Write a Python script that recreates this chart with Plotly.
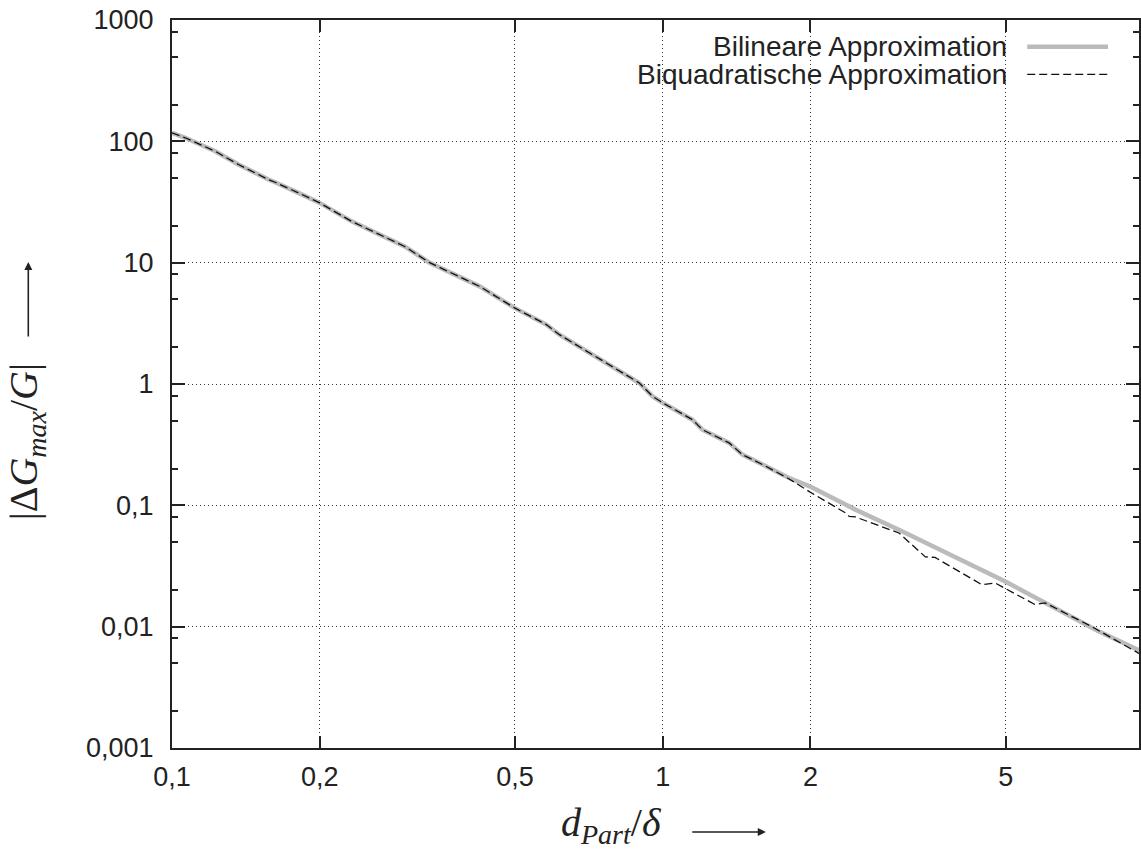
import plotly.graph_objects as go

# ---- data ----
x_bilinear = [0.1, 0.1064, 0.1225, 0.1366, 0.1572, 0.1622, 0.181, 0.2, 0.2323, 0.265,
              0.298, 0.335, 0.4236, 0.499, 0.579, 0.616, 0.666, 0.72, 0.896, 0.954, 1.0,
              1.15, 1.205, 1.366, 1.454, 1.623, 1.81, 1.994, 2.47, 3.03, 3.49, 4.98,
              7.73, 9.5]
y_bilinear = [117.5, 107, 82.8, 64.4, 48.4, 46, 37.6, 31.1, 21.9, 17.1,
              13.6, 10.0, 6.38, 4.24, 3.09, 2.55, 2.11, 1.75, 1.02, 0.79, 0.70,
              0.508, 0.42, 0.327, 0.262, 0.21, 0.168, 0.1435, 0.0922, 0.063, 0.0474, 0.0237,
              0.00915, 0.0062]

x_biquad = [0.1, 0.1064, 0.1225, 0.1366, 0.1572, 0.1622, 0.181, 0.2, 0.2323, 0.265,
            0.298, 0.335, 0.4236, 0.499, 0.579, 0.616, 0.666, 0.72, 0.896, 0.954, 1.0,
            1.15, 1.205, 1.366, 1.454, 1.623, 1.81, 1.994, 2.36, 2.40, 2.47, 3.03, 3.43,
            3.59, 4.47, 4.76, 5.74, 6.02, 7.49, 9.5]
y_biquad = [117.5, 107, 82.8, 64.4, 48.4, 46, 37.6, 31.1, 21.9, 17.1,
            13.6, 10.0, 6.38, 4.24, 3.09, 2.55, 2.11, 1.75, 1.02, 0.79, 0.70,
            0.508, 0.42, 0.327, 0.262, 0.21, 0.165, 0.129, 0.0865, 0.0811, 0.0802, 0.0592, 0.0376,
            0.0372, 0.0222, 0.0229, 0.0152, 0.0157, 0.0100, 0.0058]

series_names = ["Bilineare Approximation", "Biquadratische Approximation"]

x_tickvals = [0.1, 0.2, 0.5, 1, 2, 5]
x_ticktext = ["0,1", "0,2", "0,5", "1", "2", "5"]
y_tickvals = [0.001, 0.01, 0.1, 1, 10, 100, 1000]
y_ticktext = ["0,001", "0,01", "0,1", "1", "10", "100", "1000"]
y_minorvals = [m * 10.0 ** e for e in range(-3, 3) for m in (2, 5, 8)]

x_title = "<i>d</i><sub><i>Part</i></sub>/<i>δ</i>"
y_title = "|Δ<i>G</i><sub><i>max</i></sub>/<i>G</i>|"

# ---- figure ----
W, H = 1141, 852
ML, MR, MT, MB = 172, 0, 20, 104
PW, PH = W - ML - MR, H - MT - MB


def px_x(p):
    return (p - ML) / PW


def px_y(p):
    return 1 - (p - MT) / PH


GRAY = "#bbbbbb"
INK = "#222222"
TICKFONT = dict(family="Liberation Sans, Arial, sans-serif", size=27, color=INK)
MATHFONT = dict(family="Liberation Serif, Times New Roman, serif", size=40, color=INK)

fig = go.Figure()
fig.add_trace(go.Scatter(x=x_bilinear, y=y_bilinear, mode="lines", name=series_names[0],
                         line=dict(color=GRAY, width=4.5), showlegend=False))
fig.add_trace(go.Scatter(x=x_biquad, y=y_biquad, mode="lines", name=series_names[1],
                         line=dict(color="#111111", width=1.3, dash="8px,4px"), showlegend=False))

x_end = (PW / 491.7) - 1  # log10 upper bound so a decade spans ~492 px

fig.update_layout(
    width=W, height=H,
    margin=dict(l=ML, r=MR, t=MT, b=MB, pad=0),
    paper_bgcolor="white", plot_bgcolor="white",
    showlegend=False,
    xaxis=dict(type="log", range=[-1, x_end], tickvals=x_tickvals, ticktext=x_ticktext,
               ticks="inside", ticklen=12, tickwidth=2, tickcolor=INK,
               showline=True, linewidth=2, linecolor=INK, mirror="ticks",
               showgrid=True, gridcolor="#333333", gridwidth=1, griddash="1px,3px",
               tickfont=TICKFONT, ticklabelstandoff=4, zeroline=False),
    yaxis=dict(type="log", range=[-3, 3], tickvals=y_tickvals, ticktext=y_ticktext,
               ticks="inside", ticklen=13, tickwidth=2, tickcolor=INK,
               showline=True, linewidth=2, linecolor=INK, mirror="ticks",
               showgrid=True, gridcolor="#333333", gridwidth=1, griddash="1px,3px",
               tickfont=TICKFONT, ticklabelstandoff=11, zeroline=False,
               minor=dict(tickvals=y_minorvals, ticks="inside", ticklen=6, tickwidth=2,
                          tickcolor=INK, showgrid=False)),
)

annotations = [
    dict(xref="paper", yref="paper", x=px_x(612), y=px_y(825), text=x_title,
         showarrow=False, xanchor="center", yanchor="middle", font=MATHFONT),
    dict(xref="paper", yref="paper", x=px_x(767), y=px_y(832), text="",
         showarrow=True, ax=-75, ay=0, arrowhead=2, arrowsize=1, arrowwidth=1.6,
         arrowcolor=INK, standoff=0),
    dict(xref="paper", yref="paper", x=px_x(26), y=px_y(442), text=y_title,
         showarrow=False, xanchor="center", yanchor="middle", textangle=-90, font=MATHFONT),
    dict(xref="paper", yref="paper", x=px_x(28), y=px_y(262), text="",
         showarrow=True, ax=0, ay=76, arrowhead=2, arrowsize=1, arrowwidth=1.6,
         arrowcolor=INK, standoff=0),
]

# custom legend (text left of the line sample, as in the reference)
legend_rows = [(46.7, dict(color=GRAY, width=4.5)),
               (74.3, dict(color="#111111", width=1.3, dash="8px,4px"))]
shapes = []
for name, (ypix, ln) in zip(series_names, legend_rows):
    annotations.append(dict(xref="paper", yref="paper", x=px_x(1011), y=px_y(ypix), text=name,
                            showarrow=False, xanchor="right", yanchor="middle",
                            font=dict(family="Liberation Sans, Arial, sans-serif", size=28, color=INK)))
    shapes.append(dict(type="line", xref="paper", yref="paper", x0=px_x(1029), x1=px_x(1110),
                       y0=px_y(ypix), y1=px_y(ypix), line=ln))

fig.update_layout(annotations=annotations, shapes=shapes)

# remove the browser's default 8px body margin so the figure sits at the page origin
fig.write_html("out.html", config={"displayModeBar": False},
               post_script="document.body.style.margin='0px';")
